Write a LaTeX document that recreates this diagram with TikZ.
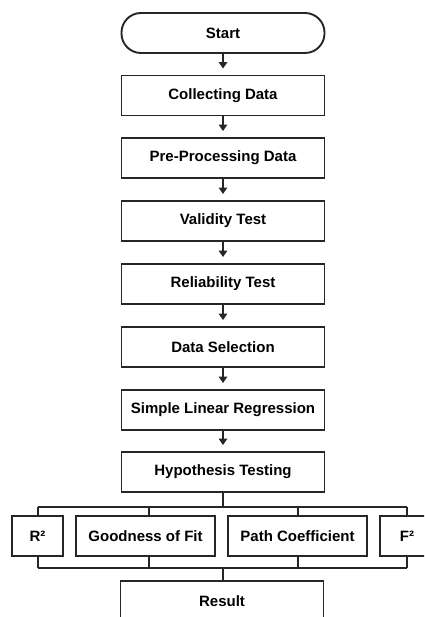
\documentclass[tikz,border=0pt]{standalone}
\usepackage{fontspec}
\setmainfont{Liberation Sans}
\usepackage{tikz}
\usetikzlibrary{arrows.meta,positioning}

\tikzset{
  stepbox/.style={draw=black!85, line width=1.9pt, minimum width=203pt, minimum height=40pt,
    inner sep=0pt, font=\fontsize{15}{18}\selectfont\bfseries},
  termbox/.style={stepbox, rounded corners=19.5pt},
  smallbox/.style={stepbox, minimum width=51pt},
  midbox/.style={stepbox, minimum width=139pt},
  flow/.style={draw=black!85, line width=2pt, -{Triangle[length=6.5pt,width=8.5pt]}, shorten >=6pt},
  bus/.style={draw=black!85, line width=2pt}
}

\begin{document}
\begin{tikzpicture}[x=1pt,y=-1pt]
        \useasboundingbox (0,0) rectangle (424,617);
        \clip (0,0) rectangle (424,617);

        % main column
        \node[termbox] (start) at (223,33) {Start};
        \node[stepbox] (collect) at (223,95.5) {Collecting Data};
        \node[stepbox] (prep) at (223,158) {Pre-Processing Data};
        \node[stepbox] (valid) at (223,221) {Validity Test};
        \node[stepbox] (reliab) at (223,284) {Reliability Test};
        \node[stepbox] (select) at (223,347) {Data Selection};
        \node[stepbox] (slr) at (223,410) {Simple Linear Regression};
        \node[stepbox] (hypo) at (223,472) {Hypothesis Testing};

        \draw[flow] (start) -- (collect);
        \draw[flow] (collect) -- (prep);
        \draw[flow] (prep) -- (valid);
        \draw[flow] (valid) -- (reliab);
        \draw[flow] (reliab) -- (select);
        \draw[flow] (select) -- (slr);
        \draw[flow] (slr) -- (hypo);

        % measures
        \node[smallbox] (rsq) at (37.5,536) {R²};
        \node[midbox] (fit) at (145.5,536) {Goodness of Fit};
        \node[midbox] (path) at (297.5,536) {Path Coefficient};
        \node[smallbox, minimum width=54pt] (fsq) at (407,536) {F²};

        \node[stepbox] (result) at (222,601) {Result};

        % upper bus
        \coordinate (bustop) at (223,507);
        \draw[bus] (hypo.south) -- (hypo.south |- bustop);
        \draw[bus] (rsq.north |- bustop) -- (fsq.north |- bustop);
        \draw[bus] (rsq.north) -- (rsq.north |- bustop);
        \draw[bus] ([xshift=3.5pt]fit.north) -- ([xshift=3.5pt]fit.north |- bustop);
        \draw[bus] (path.north) -- (path.north |- bustop);
        \draw[bus] (fsq.north) -- (fsq.north |- bustop);

        % lower bus
        \coordinate (busbot) at (223,568);
        \draw[bus] (rsq.south |- busbot) -- (fsq.south |- busbot);
        \draw[bus] (rsq.south) -- (rsq.south |- busbot);
        \draw[bus] ([xshift=3.5pt]fit.south) -- ([xshift=3.5pt]fit.south |- busbot);
        \draw[bus] (path.south) -- (path.south |- busbot);
        \draw[bus] (fsq.south) -- (fsq.south |- busbot);
        \draw[bus] (busbot) -- (busbot |- result.north);

\end{tikzpicture}
\end{document}
